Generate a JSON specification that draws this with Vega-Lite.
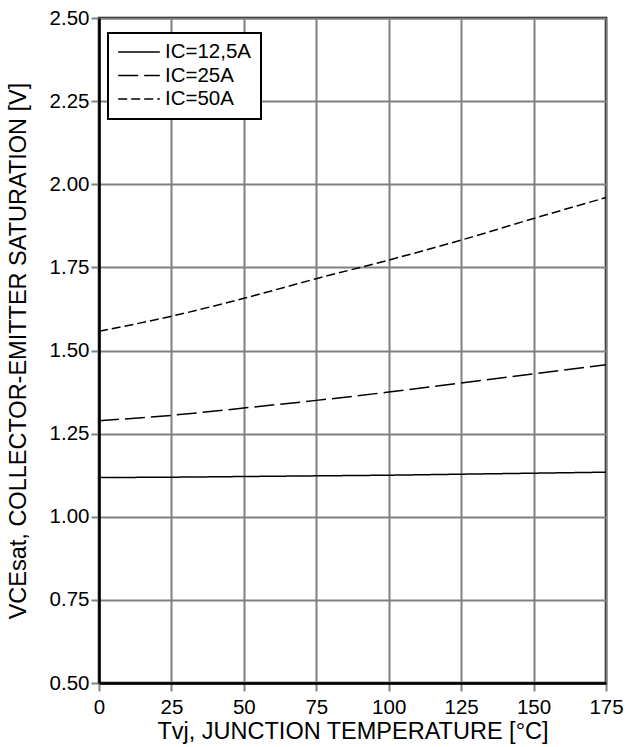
{
  "$schema": "https://vega.github.io/schema/vega-lite/v6.json",
  "autosize": {"type": "none"},
  "padding": {"left": 99, "top": 18, "right": 24, "bottom": 64},
  "width": 507,
  "height": 665,
  "background": "white",
  "config": {
    "font": "Liberation Sans",
    "view": {"stroke": "black", "strokeWidth": 2.5},
    "axis": {
      "labelFont": "Liberation Sans",
      "titleFont": "Liberation Sans",
      "labelFontSize": 20.5,
      "titleFontSize": 23.5,
      "labelColor": "black",
      "titleColor": "black",
      "titleFontWeight": "normal",
      "gridColor": "#808080",
      "gridWidth": 2,
      "gridOpacity": 1,
      "tickColor": "#808080",
      "tickWidth": 2,
      "tickSize": 8,
      "domainColor": "black",
      "domainWidth": 2.5,
      "labelPadding": 2,
      "labelFlush": false
    }
  },
  "data": {
    "values": [
      {"T": 0, "V": 1.118, "s": "IC=12,5A"},
      {"T": 25, "V": 1.119, "s": "IC=12,5A"},
      {"T": 50, "V": 1.121, "s": "IC=12,5A"},
      {"T": 75, "V": 1.123, "s": "IC=12,5A"},
      {"T": 100, "V": 1.125, "s": "IC=12,5A"},
      {"T": 125, "V": 1.128, "s": "IC=12,5A"},
      {"T": 150, "V": 1.131, "s": "IC=12,5A"},
      {"T": 175, "V": 1.134, "s": "IC=12,5A"},
      {"T": 0, "V": 1.289, "s": "IC=25A"},
      {"T": 25, "V": 1.305, "s": "IC=25A"},
      {"T": 50, "V": 1.327, "s": "IC=25A"},
      {"T": 75, "V": 1.350, "s": "IC=25A"},
      {"T": 100, "V": 1.375, "s": "IC=25A"},
      {"T": 125, "V": 1.402, "s": "IC=25A"},
      {"T": 150, "V": 1.430, "s": "IC=25A"},
      {"T": 175, "V": 1.457, "s": "IC=25A"},
      {"T": 0, "V": 1.558, "s": "IC=50A"},
      {"T": 25, "V": 1.603, "s": "IC=50A"},
      {"T": 50, "V": 1.657, "s": "IC=50A"},
      {"T": 75, "V": 1.716, "s": "IC=50A"},
      {"T": 100, "V": 1.772, "s": "IC=50A"},
      {"T": 125, "V": 1.832, "s": "IC=50A"},
      {"T": 150, "V": 1.897, "s": "IC=50A"},
      {"T": 175, "V": 1.960, "s": "IC=50A"}
    ]
  },
  "mark": {"type": "line", "color": "black", "strokeWidth": 1.5, "interpolate": "monotone"},
  "encoding": {
    "x": {
      "field": "T", "type": "quantitative",
      "scale": {"domain": [0, 175], "nice": false, "zero": false},
      "axis": {"values": [0, 25, 50, 75, 100, 125, 150, 175], "title": "Tvj, JUNCTION TEMPERATURE [°C]", "labelPadding": 6, "titlePadding": 2}
    },
    "y": {
      "field": "V", "type": "quantitative",
      "scale": {"domain": [0.5, 2.5], "nice": false, "zero": false},
      "axis": {"values": [0.5, 0.75, 1, 1.25, 1.5, 1.75, 2, 2.25, 2.5], "format": ".2f", "title": "VCEsat, COLLECTOR-EMITTER SATURATION [V]", "titlePadding": 19}
    },
    "strokeDash": {
      "field": "s", "type": "nominal",
      "scale": {"domain": ["IC=12,5A", "IC=25A", "IC=50A"], "range": [[1, 0], [20, 6], [9, 4]]},
      "legend": {
        "title": null,
        "orient": "none",
        "legendX": 9,
        "legendY": 15,
        "strokeColor": "black",
        "fillColor": "white",
        "padding": 9,
        "clipHeight": 20,
        "symbolType": "stroke",
        "symbolSize": 1730,
        "symbolStrokeColor": "black",
        "symbolStrokeWidth": 1.5,
        "labelFontSize": 20.5,
        "labelFont": "Liberation Sans",
        "labelColor": "black",
        "labelOffset": 4,
        "rowPadding": 2.5,
        "encode": {"legend": {"update": {"strokeWidth": {"value": 2}}}}
      }
    }
  }
}
